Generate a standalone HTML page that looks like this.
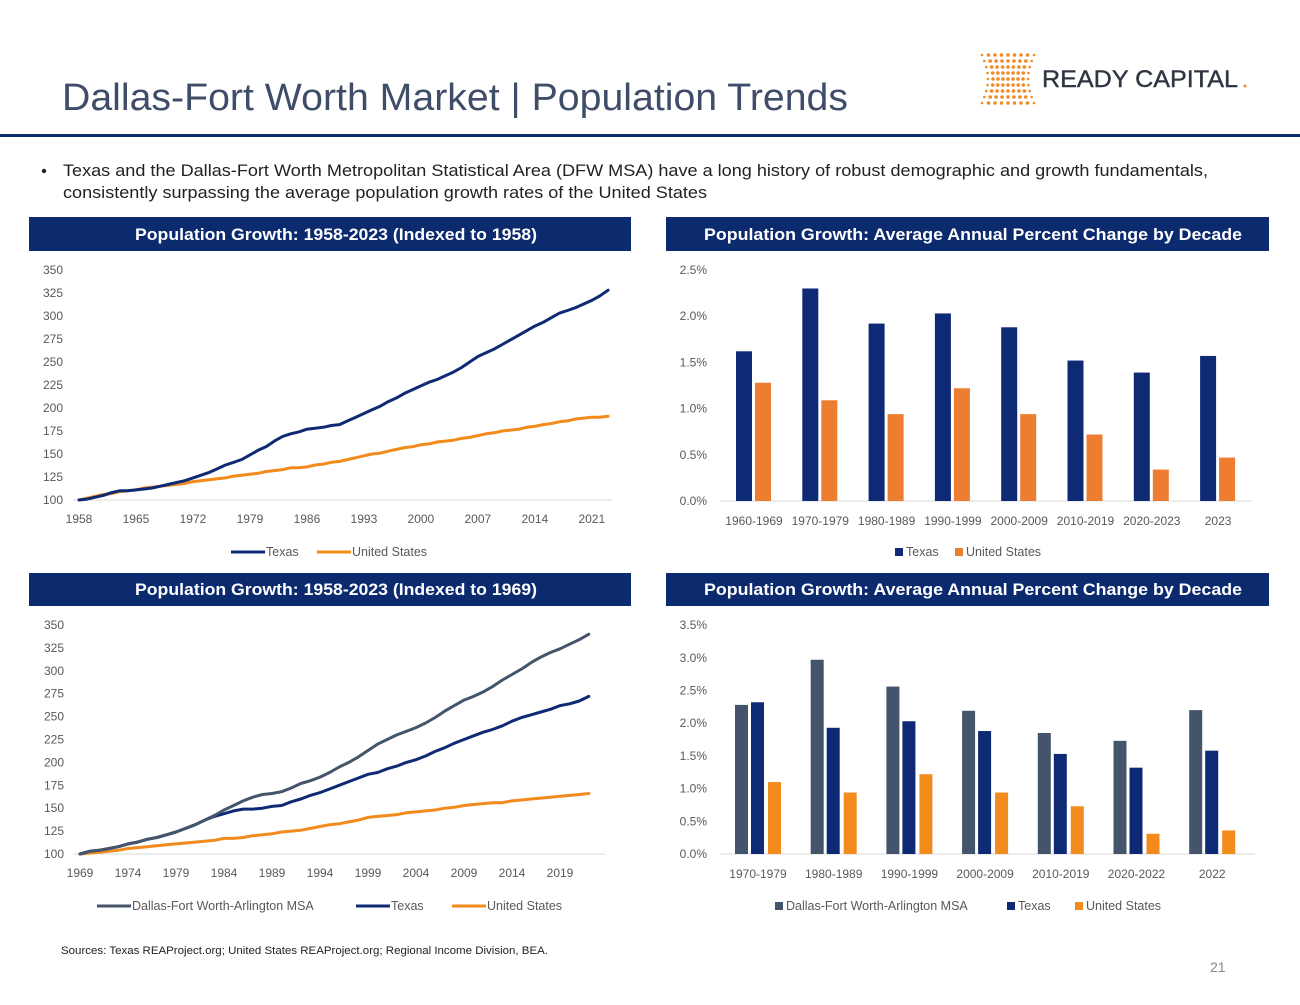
<!DOCTYPE html>
<html><head><meta charset="utf-8"><style>
html,body{margin:0;padding:0;background:#fff;}
svg{display:block;font-family:"Liberation Sans",Arial,sans-serif;}
</style></head><body>
<svg id="page" width="1300" height="1005" viewBox="0 0 1300 1005" xmlns="http://www.w3.org/2000/svg">
<rect x="0" y="0" width="1300" height="1005" fill="#fff"/>
<text x="62" y="110" font-size="38" fill="#3f4d68" textLength="786" lengthAdjust="spacingAndGlyphs">Dallas-Fort Worth Market | Population Trends</text>
<g id="logo"></g>
<text x="1042" y="87" font-size="24" fill="#2f3643" stroke="#2f3643" stroke-width="0.4" textLength="196" lengthAdjust="spacingAndGlyphs">READY CAPITAL</text>
<circle cx="1245" cy="86" r="1.5" fill="#f08a24"/>
<rect x="0" y="134" width="1300" height="3" fill="#0c2a6e"/>
<circle cx="44" cy="171" r="2.2" fill="#222"/>
<text x="63" y="176" font-size="17" fill="#222" textLength="1145" lengthAdjust="spacingAndGlyphs">Texas and the Dallas-Fort Worth Metropolitan Statistical Area (DFW MSA) have a long history of robust demographic and growth fundamentals,</text>
<text x="63" y="198" font-size="17" fill="#222" textLength="644" lengthAdjust="spacingAndGlyphs">consistently surpassing the average population growth rates of the United States</text>

<rect x="29" y="217" width="602" height="34" fill="#0c2a6e"/>
<text x="336" y="240" font-size="17" font-weight="bold" fill="#fff" text-anchor="middle" textLength="402" lengthAdjust="spacingAndGlyphs">Population Growth: 1958-2023 (Indexed to 1958)</text>
<rect x="666" y="217" width="603" height="34" fill="#0c2a6e"/>
<text x="973" y="240" font-size="17" font-weight="bold" fill="#fff" text-anchor="middle" textLength="538" lengthAdjust="spacingAndGlyphs">Population Growth: Average Annual Percent Change by Decade</text>
<rect x="29" y="573" width="602" height="33" fill="#0c2a6e"/>
<text x="336" y="595" font-size="17" font-weight="bold" fill="#fff" text-anchor="middle" textLength="402" lengthAdjust="spacingAndGlyphs">Population Growth: 1958-2023 (Indexed to 1969)</text>
<rect x="666" y="573" width="603" height="33" fill="#0c2a6e"/>
<text x="973" y="595" font-size="17" font-weight="bold" fill="#fff" text-anchor="middle" textLength="538" lengthAdjust="spacingAndGlyphs">Population Growth: Average Annual Percent Change by Decade</text>

<g id="c1"></g>
<g id="c2"></g>
<g id="c3"></g>
<g id="c4"></g>

<text x="61" y="954" font-size="11" fill="#222" textLength="487" lengthAdjust="spacingAndGlyphs">Sources: Texas REAProject.org; United States REAProject.org; Regional Income Division, BEA.</text>
<text x="1210" y="972" font-size="14" fill="#8a8a8a">21</text>
</svg>
<script>
// ---- Chart 1 data ----
const years1 = [];
for (let y = 1958; y <= 2023; y++) years1.push(y);
const texas1 = [100,101,103,105,108,110,110,111,112,113,115,117,119,121,124,127,130,134,138,141,144,149,154,158,164,169,172,174,177,178,179,181,182,186,190,194,198,202,207,211,216,220,224,228,231,235,239,244,250,256,260,264,269,274,279,284,289,293,298,303,306,309,313,317,322,328];
const us1 = [100,102,104,106,107,109,110,111,113,114,115,116,117,118,120,121,122,123,124,126,127,128,129,131,132,133,135,135,136,138,139,141,142,144,146,148,150,151,153,155,157,158,160,161,163,164,165,167,168,170,172,173,175,176,177,179,180,182,183,185,186,188,189,190,190,191];
const ticks1 = ['1958','1965','1972','1979','1986','1993','2000','2007','2014','2021'];
const yTicks1 = [100,125,150,175,200,225,250,275,300,325,350];

// ---- Chart 2 data ----
const cats2 = ['1960-1969','1970-1979','1980-1989','1990-1999','2000-2009','2010-2019','2020-2023','2023'];
const texas2 = [1.62,2.30,1.92,2.03,1.88,1.52,1.39,1.57];
const us2 = [1.28,1.09,0.94,1.22,0.94,0.72,0.34,0.47];
const yTicks2 = [0,0.5,1.0,1.5,2.0,2.5];

// ---- Chart 3 data ----
const years3 = [];
for (let y = 1969; y <= 2022; y++) years3.push(y);
const dfw3 = [100,103,104,106,108,111,113,116,118,121,124,128,132,137,142,148,153,158,162,165,166,168,172,177,180,184,189,195,200,206,213,220,225,230,234,238,243,249,256,262,268,272,277,283,290,296,302,309,315,320,324,329,334,340];
const texas3 = [100,103,104,106,108,111,113,116,118,121,124,128,132,137,141,144,147,149,149,150,152,153,157,160,164,167,171,175,179,183,187,189,193,196,200,203,207,212,216,221,225,229,233,236,240,245,249,252,255,258,262,264,267,272];
const us3 = [100,101,102,103,104,106,107,108,109,110,111,112,113,114,115,117,117,118,120,121,122,124,125,126,128,130,132,133,135,137,140,141,142,143,145,146,147,148,150,151,153,154,155,156,156,158,159,160,161,162,163,164,165,166];
const ticks3 = ['1969','1974','1979','1984','1989','1994','1999','2004','2009','2014','2019'];
const yTicks3 = [100,125,150,175,200,225,250,275,300,325,350];

// ---- Chart 4 data ----
const cats4 = ['1970-1979','1980-1989','1990-1999','2000-2009','2010-2019','2020-2022','2022'];
const dfw4 = [2.28,2.97,2.56,2.19,1.85,1.73,2.20];
const texas4 = [2.32,1.93,2.03,1.88,1.53,1.32,1.58];
const us4 = [1.10,0.94,1.22,0.94,0.73,0.31,0.36];
const yTicks4 = [0,0.5,1.0,1.5,2.0,2.5,3.0,3.5];

const NS = 'http://www.w3.org/2000/svg';
const NAVY = '#0f2a75', ORANGE = '#f28a1c', GRAY = '#44546a', ORANGE2 = '#ed7d31';
function mk(tag, attrs, parent, txt) {
  const e = document.createElementNS(NS, tag);
  for (const k in attrs) e.setAttribute(k, attrs[k]);
  if (txt !== undefined) e.textContent = txt;
  parent.appendChild(e);
  return e;
}

// logo dots (hourglass shape: rows wider at top/bottom, narrow in middle)
(function(){
  const g = document.getElementById('logo');
  const cx = 1008, top = 55, rows = 9;
  for (let j = 0; j < rows; j++) {
    const fy = j / (rows - 1);
    const y = top + j * 6;
    const half = 26 - 6 * Math.sin(Math.PI * fy);
    for (let i = 0; i < 9; i++) {
      const x = cx - half + i * (2 * half / 8);
      const r = (i === 0 || i === 8) ? 1.3 : 1.8;
      const d = mk('circle', {cx: x.toFixed(1), cy: y, r: r, fill: '#f08a24'}, g);
      
      
    }
  }
})();

function lineChart(id, opt) {
  const g = document.getElementById(id);
  const X = v => opt.x0 + (v - opt.xmin) * opt.xs;
  const Y = v => opt.yBase - (v - 100) * opt.ys;
  opt.yTicks.forEach(t => {
    const tl = mk('text', {x: opt.x0 - 16, y: Y(t) + 4, 'font-size': 12, fill: '#595959', 'text-anchor': 'end'}, g, String(t));
    
    
  });
  const ax = mk('line', {x1: opt.x0 - 6, x2: opt.xEnd, y1: opt.yBase, y2: opt.yBase, stroke: '#d9d9d9', 'stroke-width': 1}, g);
  
  
  opt.xTicks.forEach(t => {
    const tl = mk('text', {x: X(+t), y: opt.yBase + 23, 'font-size': 12, fill: '#595959', 'text-anchor': 'middle'}, g, t);
    
    
  });
  opt.series.forEach(s => {
    const pts = s.data.map((v, i) => X(opt.years[i]).toFixed(1) + ',' + Y(v).toFixed(1)).join(' ');
    const p = mk('polyline', {points: pts, fill: 'none', stroke: s.color, 'stroke-width': 3, 'stroke-linejoin': 'round', 'stroke-linecap': 'round'}, g);
    
    
  });
  opt.legend.forEach(l => {
    const sw = mk('line', {x1: l.x, x2: l.x + 34, y1: opt.legY - 4, y2: opt.legY - 4, stroke: l.color, 'stroke-width': 3}, g);
    
    
    const t = mk('text', {x: l.x + 35, y: opt.legY, 'font-size': 12.5, fill: '#595959'}, g, l.label);
    
    
  });
}

function barChart(id, opt) {
  const g = document.getElementById(id);
  const Y = v => opt.yBase - v * opt.ys;
  opt.yTicks.forEach(t => {
    const tl = mk('text', {x: opt.x0 - 13, y: Y(t) + 4, 'font-size': 12, fill: '#595959', 'text-anchor': 'end'}, g, t.toFixed(1) + '%');
    
    
  });
  const ax = mk('line', {x1: opt.x0, x2: opt.xEnd, y1: opt.yBase, y2: opt.yBase, stroke: '#d9d9d9', 'stroke-width': 1}, g);
  
  
  opt.cats.forEach((c, i) => {
    const cx = opt.c0 + i * opt.step;
    const tl = mk('text', {x: cx, y: opt.yBase + 24, 'font-size': 12, fill: '#595959', 'text-anchor': 'middle'}, g, c);
    
    
    opt.series.forEach((s, k) => {
      const v = s.data[i];
      const r = mk('rect', {x: cx + opt.offs[k], y: Y(v), width: opt.bw, height: Y(0) - Y(v), fill: s.color}, g);
      
      
    });
  });
  opt.legend.forEach(l => {
    const sw = mk('rect', {x: l.x, y: opt.legY - 8, width: 8, height: 8, fill: l.color}, g);
    
    
    const t = mk('text', {x: l.x + 11, y: opt.legY, 'font-size': 12.5, fill: '#595959'}, g, l.label);
    
    
  });
}

lineChart('c1', {
  x0: 79, xmin: 1958, xs: 8.14, xEnd: 612, yBase: 500, ys: 0.92,
  years: years1, xTicks: ticks1, yTicks: yTicks1, legY: 556,
  series: [{name: 'us', color: ORANGE, data: us1}, {name: 'texas', color: NAVY, data: texas1}],
  legend: [{x: 231, color: NAVY, label: 'Texas'}, {x: 317, color: ORANGE, label: 'United States'}]
});
barChart('c2', {
  x0: 720, xEnd: 1252, yBase: 501, ys: 92.4, c0: 754, step: 66.3, bw: 16, offs: [-18, 1],
  cats: cats2, yTicks: yTicks2, legY: 556,
  series: [{name: 'texas', color: NAVY, data: texas2}, {name: 'us', color: ORANGE2, data: us2}],
  legend: [{x: 895, color: NAVY, label: 'Texas'}, {x: 955, color: ORANGE2, label: 'United States'}]
});
lineChart('c3', {
  x0: 80, xmin: 1969, xs: 9.6, xEnd: 605, yBase: 854, ys: 0.916,
  years: years3, xTicks: ticks3, yTicks: yTicks3, legY: 910,
  series: [{name: 'us', color: ORANGE, data: us3}, {name: 'texas', color: NAVY, data: texas3}, {name: 'dfw', color: GRAY, data: dfw3}],
  legend: [{x: 97, color: GRAY, label: 'Dallas-Fort Worth-Arlington MSA'}, {x: 356, color: NAVY, label: 'Texas'}, {x: 452, color: ORANGE, label: 'United States'}]
});
barChart('c4', {
  x0: 720, xEnd: 1255, yBase: 854, ys: 65.4, c0: 758, step: 75.7, bw: 13, offs: [-23, -7, 10],
  cats: cats4, yTicks: yTicks4, legY: 910,
  series: [{name: 'dfw', color: GRAY, data: dfw4}, {name: 'texas', color: NAVY, data: texas4}, {name: 'us', color: ORANGE, data: us4}],
  legend: [{x: 775, color: GRAY, label: 'Dallas-Fort Worth-Arlington MSA'}, {x: 1007, color: NAVY, label: 'Texas'}, {x: 1075, color: ORANGE, label: 'United States'}]
});
</script>
</body></html>
